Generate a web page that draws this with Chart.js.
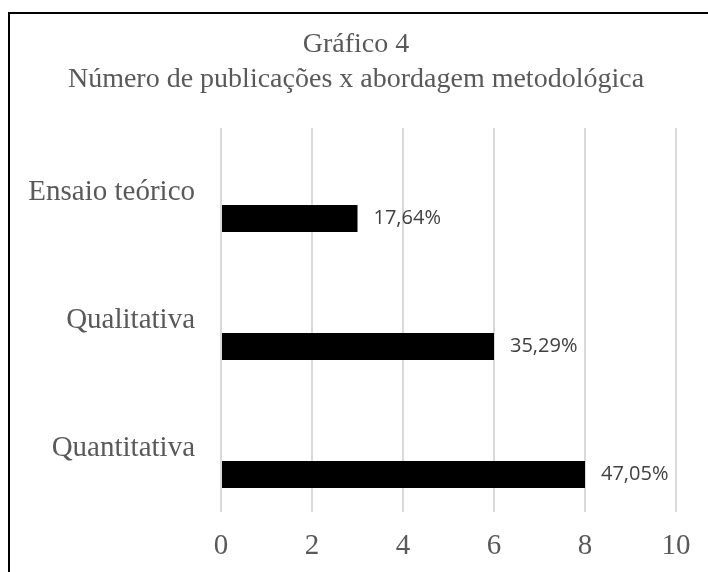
<!DOCTYPE html>
<html>
<head>
<meta charset="utf-8">
<script src="https://cdn.jsdelivr.net/npm/chart.js@4.4.1/dist/chart.umd.min.js"></script>
<style>
  html, body { margin: 0; padding: 0; background: #fff; overflow: hidden; }
  #wrap { position: absolute; left: 0; top: 0; width: 708px; height: 572px; }
  #frame { position: absolute; left: 8px; top: 12px; width: 720px; height: 600px;
           border-left: 2px solid #000; border-top: 2px solid #000; box-sizing: border-box; pointer-events: none; }
</style>
</head>
<body>
<div id="wrap">
  <canvas id="c" width="708" height="572"></canvas>
  <div id="frame"></div>
</div>
<script>
const titleLines = ["Gráfico 4", "Número de publicações x abordagem metodológica"];
const categories = ["Ensaio teórico", "Qualitativa", "Quantitativa"];
const publicacoes = [3, 6, 8];
const percentLabels = ["17,64%", "35,29%", "47,05%"];
const xTicks = [0, 2, 4, 6, 8, 10];

const serif = "'Liberation Serif', 'Times New Roman', serif";

const titlePlugin = {
  id: 'twoLineTitle',
  afterDraw(chart) {
    const ctx = chart.ctx;
    ctx.save();
    ctx.font = "28px " + serif;
    ctx.fillStyle = '#595959';
    ctx.textAlign = 'center';
    ctx.textBaseline = 'middle';
    const cx = 356, firstY = 45, lineGap = 35;
    titleLines.forEach((t, i) => ctx.fillText(t, cx, firstY + i * lineGap));
    ctx.restore();
  }
};

const percentPlugin = {
  id: 'percentLabels',
  afterDatasetsDraw(chart) {
    const meta = chart.getDatasetMeta(1);
    const ctx = chart.ctx;
    ctx.save();
    ctx.font = "20px 'Open Sans', sans-serif";
    ctx.fillStyle = '#404040';
    ctx.textAlign = 'left';
    ctx.textBaseline = 'middle';
    meta.data.forEach((bar, i) => {
      ctx.fillText(percentLabels[i], bar.x + 16, bar.y);
    });
    ctx.restore();
  }
};

new Chart(document.getElementById('c'), {
  type: 'bar',
  data: {
    labels: categories,
    datasets: [
      { label: 'Série 1', data: [], backgroundColor: '#000' },
      { label: 'Publicações', data: publicacoes, backgroundColor: '#000', borderWidth: 0 }
    ]
  },
  options: {
    indexAxis: 'y',
    responsive: false,
    animation: false,
    categoryPercentage: 0.828,
    barPercentage: 0.51,
    layout: { padding: { left: 0, right: 32, top: 128, bottom: 0 } },
    plugins: {
      legend: { display: false },
      tooltip: { enabled: false },
      title: { display: false }
    },
    scales: {
      x: {
        min: 0, max: 10,
        afterBuildTicks(scale) { scale.ticks = xTicks.map(v => ({ value: v })); },
        grid: { color: '#d9d9d9', lineWidth: 2, drawTicks: false },
        border: { display: false },
        ticks: { color: '#595959', font: { family: serif, size: 29 }, padding: 17 },
        afterFit(scale) { scale.height = 60; }
      },
      y: {
        grid: { display: false, drawTicks: false },
        border: { display: false },
        ticks: { color: '#595959', font: { family: serif, size: 29 }, padding: 26 },
        afterFit(scale) { scale.width = 221; }
      }
    }
  },
  plugins: [percentPlugin, titlePlugin]
});
</script>
</body>
</html>
